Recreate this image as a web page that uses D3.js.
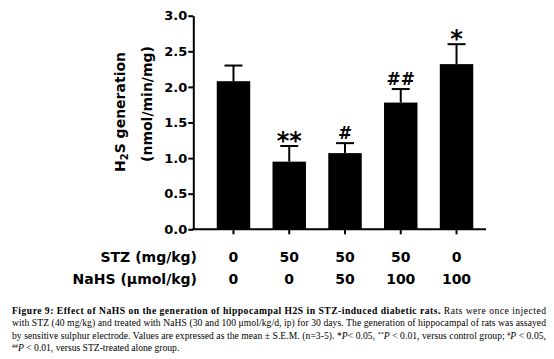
<!DOCTYPE html>
<html><head><meta charset="utf-8">
<script src="https://cdn.jsdelivr.net/npm/d3@7"></script>
<style>
html,body{margin:0;padding:0;background:#fff;}
svg{display:block;}
</style></head>
<body>
<svg id="chart" width="554" height="359"></svg>
<script>
// ---- data ----
const groups = ["g1", "g2", "g3", "g4", "g5"];
const stzDose = ["0", "50", "50", "50", "0"];
const nahsDose = ["0", "0", "50", "100", "100"];
const meanH2S = [2.08, 0.95, 1.07, 1.78, 2.32];
const semH2S = [0.22, 0.22, 0.14, 0.19, 0.28];
const signif = ["", "**", "#", "##", "*"];
const yTicks = [0, 0.5, 1.0, 1.5, 2.0, 2.5, 3.0];
const rowLabels = ["STZ (mg/kg)", "NaHS (\u03bcmol/kg)"];

const svg = d3.select("#chart");
const FONT = "'DejaVu Sans', sans-serif";

const x = d3.scaleBand().domain(groups).range([205.6, 484.4]).paddingInner(0.4).paddingOuter(0.2);
const y = d3.scaleLinear().domain([0, 3]).range([229.3, 15.7]);
const axisX0 = 193.3, axisX1 = 486;

// bars
svg.append("g").selectAll("rect").data(groups).join("rect")
  .attr("x", d => x(d)).attr("width", x.bandwidth())
  .attr("y", (d, i) => y(meanH2S[i])).attr("height", (d, i) => y(0) - y(meanH2S[i]))
  .attr("fill", "#000");

// error bars
const eb = svg.append("g").attr("stroke", "#000").attr("stroke-width", 2);
groups.forEach((g, i) => {
  const cx = x(g) + x.bandwidth() / 2;
  eb.append("line").attr("x1", cx).attr("x2", cx).attr("y1", y(meanH2S[i])).attr("y2", y(meanH2S[i] + semH2S[i]));
  eb.append("line").attr("x1", cx - 9).attr("x2", cx + 9).attr("y1", y(meanH2S[i] + semH2S[i])).attr("y2", y(meanH2S[i] + semH2S[i]));
});

// significance marks
groups.forEach((g, i) => {
  if (!signif[i]) return;
  const cx = x(g) + x.bandwidth() / 2;
  const top = y(meanH2S[i] + semH2S[i]);
  const isStar = signif[i].includes("*");
  svg.append("text").attr("x", cx).attr("y", isStar ? top + 3 : top - 4)
    .attr("text-anchor", "middle").attr("font-family", FONT).attr("font-weight", "bold")
    .attr("font-size", isStar ? 24 : 17).text(signif[i]);
});

// y axis
const yAxis = d3.axisLeft(y).tickValues(yTicks).tickFormat(d3.format(".1f")).tickSize(5).tickSizeOuter(0);
const gy = svg.append("g").attr("transform", `translate(${axisX0},0)`).call(yAxis);
gy.select(".domain").attr("stroke-width", 2);
gy.selectAll(".tick line").attr("stroke-width", 2);
gy.selectAll(".tick text").attr("font-family", FONT).attr("font-weight", "bold").attr("font-size", 13).attr("x", -6).attr("fill", "#000");

// x axis
const gx = svg.append("g").attr("transform", `translate(0,${y(0)})`);
gx.append("line").attr("x1", axisX0 - 1).attr("x2", axisX1).attr("stroke", "#000").attr("stroke-width", 2);
groups.forEach(g => {
  const cx = x(g) + x.bandwidth() / 2;
  gx.append("line").attr("x1", cx).attr("x2", cx).attr("y1", 0).attr("y2", 5).attr("stroke", "#000").attr("stroke-width", 2);
});

// treatment rows
const rowY = [262, 284];
[stzDose, nahsDose].forEach((row, r) => {
  svg.append("text").attr("x", 197).attr("y", rowY[r]).attr("text-anchor", "end")
    .attr("font-family", FONT).attr("font-weight", "bold").attr("font-size", 14).text(rowLabels[r]);
  groups.forEach((g, i) => {
    svg.append("text").attr("x", x(g) + x.bandwidth() / 2).attr("y", rowY[r]).attr("text-anchor", "middle")
      .attr("font-family", FONT).attr("font-weight", "bold").attr("font-size", 14).text(row[i]);
  });
});

// y title
const yt = svg.append("g").attr("font-family", FONT).attr("font-weight", "bold").attr("font-size", 14);
const t1 = yt.append("text").attr("transform", "translate(125,112) rotate(-90)").attr("text-anchor", "middle");
t1.append("tspan").text("H");
t1.append("tspan").attr("baseline-shift", "-30%").attr("font-size", 10).text("2");
t1.append("tspan").text("S generation");
yt.append("text").attr("transform", "translate(152,104) rotate(-90)").attr("text-anchor", "middle").text("(nmol/min/mg)");

// caption
const cap = svg.append("g").attr("font-family", "'Liberation Serif', 'Times New Roman', serif").attr("font-size", 9.6).attr("fill", "#000");
const capW = 534, capX = 12;
const l1 = cap.append("text").attr("x", capX).attr("y", 313.5).attr("textLength", capW).attr("lengthAdjust", "spacing");
l1.append("tspan").attr("font-weight", "bold").text("Figure 9: Effect of NaHS on the generation of hippocampal H2S in STZ-induced diabetic rats.");
l1.append("tspan").text(" Rats were once injected");
cap.append("text").attr("x", capX).attr("y", 326).attr("textLength", capW).attr("lengthAdjust", "spacing")
  .text("with STZ (40 mg/kg) and treated with NaHS (30 and 100 \u03bcmol/kg/d, ip) for 30 days. The generation of hippocampal of rats was assayed");
const l3 = cap.append("text").attr("x", capX).attr("y", 338.5).attr("textLength", capW).attr("lengthAdjust", "spacing");
l3.append("tspan").text("by sensitive sulphur electrode. Values are expressed as the mean \u00b1 S.E.M. (n=3-5). *");
l3.append("tspan").attr("font-style", "italic").text("P");
l3.append("tspan").text("< 0.05, ");
l3.append("tspan").attr("baseline-shift", "super").attr("font-size", 6).text("**");
l3.append("tspan").attr("font-style", "italic").text("P");
l3.append("tspan").text(" < 0.01, versus control group; ");
l3.append("tspan").attr("baseline-shift", "super").attr("font-size", 6).text("#");
l3.append("tspan").attr("font-style", "italic").text("P");
l3.append("tspan").text(" < 0.05,");
const l4 = cap.append("text").attr("x", capX).attr("y", 351);
l4.append("tspan").attr("baseline-shift", "super").attr("font-size", 6).text("##");
l4.append("tspan").attr("font-style", "italic").text("P");
l4.append("tspan").text(" < 0.01, versus STZ-treated alone group.");
</script>
</body></html>
